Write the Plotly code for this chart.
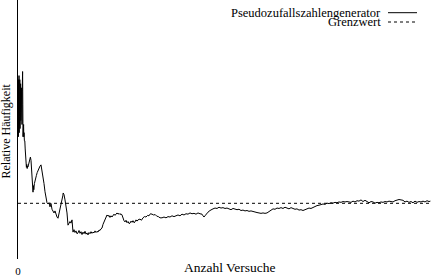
import plotly.graph_objects as go

# Number of trials
versuche = [1,2,3,4,5,6,7,8,9,10,11,12,13,14,15,16,17,18,19,20,21,22,23,24,25,26,27,28,29,30,
            32,34,36,38,40,42,44,46,48,50,54,58,62,65,68,70,72,73,74,75,77,79,82,85,88,92,96,100,
            105,110,115,120,125,130,135,140,145,150,155,160,165,170,175,180,185,190,195,200,205,210,
            215,220,224,226,230,235,240,245,250,255,260,265,270,275,280,285,290,295,300,305,310,315,
            320,325,330,335,340,345,350,355,360,365,370,375,380,385,390,395,400,405,410,415,420,425,
            430,435,440,445,450,455,460,465,470,475,480,485,490,495,500,505,510,515,520,525,530,535,
            540,545,550,555,560,565,570,575,580,585,590,595,600,610,617,625,632,640,648,655,662,670,
            678,686,694,702,710,720,730,740,750,760,770,780,790,800,810,820,830,840,850,860,870,880,
            890,900,910,920,925,930,935,940,950,960,968,975,985,995,1005,1015,1025,1035,1045,1055,
            1065,1075,1085,1095,1105,1115,1125,1135,1145,1155,1165,1175,1185,1195,1205,1215,1225,
            1235,1245,1255,1265,1275,1285,1295,1305,1315,1325,1335,1345,1355,1365,1375,1385,1395,
            1405,1415,1425,1435,1445,1455,1465,1475,1485,1495,1505,1515,1525,1535,1545,1555,1565,
            1575,1585,1595,1605,1615,1625,1635,1645,1655,1665,1675,1685,1695,1705,1715,1725,1735,
            1745,1755,1765,1775,1785,1795,1805,1815,1825,1835,1845,1855,1865,1875,1885,1895,1905,
            1915,1925,1935,1945,1955,1965,1975,1985,1995,2005,2015,2025,2035,2045,2055,2062]

# Relative frequency from the pseudo random number generator
haeufigkeit = [0.45,0.33,0.47,0.36,0.48,0.34,0.46,0.38,0.47,0.35,0.44,0.39,0.46,0.37,0.43,0.40,0.45,0.38,0.42,0.36,
               0.44,0.47,0.49,0.41,0.33,0.37,0.34,0.36,0.33,0.34,
               0.32,0.32,0.30,0.27,0.26,0.255,0.262,0.252,0.258,0.256,0.265,0.274,0.28,0.272,0.25,0.23,0.205,0.22,
               0.198,0.194,0.21,0.2,0.215,0.224,0.228,0.235,0.242,0.248,
               0.252,0.258,0.261,0.248,0.231,0.215,0.195,0.175,0.168,0.165,0.168,0.158,0.166,0.152,0.146,0.143,
               0.148,0.136,0.133,0.13,0.14,0.152,
               0.16,0.172,0.185,0.192,0.188,0.175,0.16,0.143,0.113,0.118,0.122,0.118,0.126,0.096,0.102,0.095,
               0.099,0.092,0.094,0.1,0.093,0.097,
               0.09,0.096,0.092,0.098,0.091,0.094,0.089,0.095,0.092,0.097,0.093,0.096,0.094,0.099,0.095,0.098,
               0.096,0.101,0.1,0.104,0.106,0.115,
               0.122,0.126,0.132,0.138,0.135,0.137,0.132,0.136,0.133,0.138,0.14,0.137,0.141,0.143,0.14,0.142,
               0.139,0.141,0.138,0.13,0.124,0.121,
               0.125,0.119,0.122,0.117,0.118,0.123,0.12,0.124,0.119,0.121,0.126,0.123,0.126,0.128,0.125,0.131,
               0.134,0.133,0.137,0.136,0.141,0.14,
               0.138,0.139,0.135,0.134,0.131,0.131,0.133,0.131,0.134,0.133,0.136,0.134,0.137,0.138,0.136,0.14,
               0.138,0.141,0.14,0.143,0.141,0.142,
               0.14,0.143,0.141,0.14,0.136,0.133,0.136,0.14,0.145,0.149,0.152,0.153,0.155,0.154,0.157,0.155,
               0.156,0.154,0.155,0.153,
               0.151,0.154,0.153,0.151,0.152,0.149,0.15,0.148,0.149,0.147,0.148,0.146,0.145,0.144,0.143,0.142,
               0.143,
               0.142,0.143,0.146,0.15,0.153,0.152,0.155,0.154,0.156,0.154,0.157,0.155,0.153,0.156,0.154,0.152,
               0.153,
               0.15,0.151,0.149,0.151,0.153,0.155,0.154,0.157,0.159,0.161,0.162,0.163,0.165,0.164,0.167,0.166,
               0.168,
               0.167,0.169,0.168,0.17,0.169,0.171,0.17,0.171,0.17,0.169,0.172,0.17,0.173,0.172,0.175,0.171,
               0.174,
               0.172,0.168,0.171,0.17,0.167,0.169,0.168,0.17,0.169,0.171,0.17,0.172,0.171,0.17,0.173,0.174,
               0.176,
               0.175,0.174,0.17,0.172,0.169,0.171,0.168,0.172,0.169,0.171,0.17,0.172,0.17,0.173,0.171,0.172]

grenzwert = 1 / 6
x_bereich = [0, 2065]
y_bereich = [0.03, 0.6655]

legend_labels = ["Pseudozufallszahlengenerator", "Grenzwert"]
x_title = "Anzahl Versuche"
y_title = "Relative Häufigkeit"
tick_vals = [0]
tick_text = ["0"]

FONT = "Liberation Serif"

fig = go.Figure()
fig.add_trace(go.Scatter(x=versuche, y=haeufigkeit, mode="lines",
                         line=dict(color="black", width=1), name=legend_labels[0]))
fig.add_trace(go.Scatter(x=x_bereich, y=[grenzwert, grenzwert], mode="lines",
                         line=dict(color="black", width=1, dash="3px,3px"), name=legend_labels[1]))

W, H = 431, 276
L, R, T, B = 18, 0, 0, 17
pw, ph = W - L - R, H - T - B

def px(x):
    return (x - L) / pw

def py(y):
    return (H - B - y) / ph

fig.update_layout(
    width=W, height=H,
    margin=dict(l=L, r=R, t=T, b=B, pad=0, autoexpand=False),
    paper_bgcolor="white", plot_bgcolor="white",
    showlegend=False,
    font=dict(family=FONT, color="black", size=12),
    xaxis=dict(range=x_bereich, tickvals=tick_vals, ticktext=tick_text,
               showgrid=False, zeroline=False, showline=False, automargin=False,
               ticks="outside", ticklen=2, tickcolor="rgba(0,0,0,0)",
               tickfont=dict(family=FONT, size=11, color="black")),
    yaxis=dict(range=y_bereich, showticklabels=False, showgrid=False, zeroline=False,
               automargin=False,
               showline=True, linecolor="black", linewidth=1, ticks=""),
    annotations=[
        dict(text=x_title, x=px(230), y=py(267), xref="paper", yref="paper",
             xanchor="center", yanchor="middle", showarrow=False,
             font=dict(family=FONT, size=13.5)),
        dict(text=y_title, x=px(5.5), y=py(131), xref="paper", yref="paper",
             xanchor="center", yanchor="middle", showarrow=False, textangle=-90,
             font=dict(family=FONT, size=12)),
        dict(text=legend_labels[0], x=px(383), y=py(12.5), xref="paper", yref="paper",
             xanchor="right", yanchor="middle", showarrow=False,
             font=dict(family=FONT, size=12.5)),
        dict(text=legend_labels[1], x=px(383), y=py(22), xref="paper", yref="paper",
             xanchor="right", yanchor="middle", showarrow=False,
             font=dict(family=FONT, size=12.5)),
    ],
    shapes=[
        dict(type="line", xref="paper", yref="paper", x0=px(388), x1=px(417),
             y0=py(12.7), y1=py(12.7), line=dict(color="black", width=1)),
        dict(type="line", xref="paper", yref="paper", x0=px(388), x1=px(417),
             y0=py(22), y1=py(22), line=dict(color="black", width=1, dash="3px,3px")),
    ],
)

fig.write_html("out.html")
